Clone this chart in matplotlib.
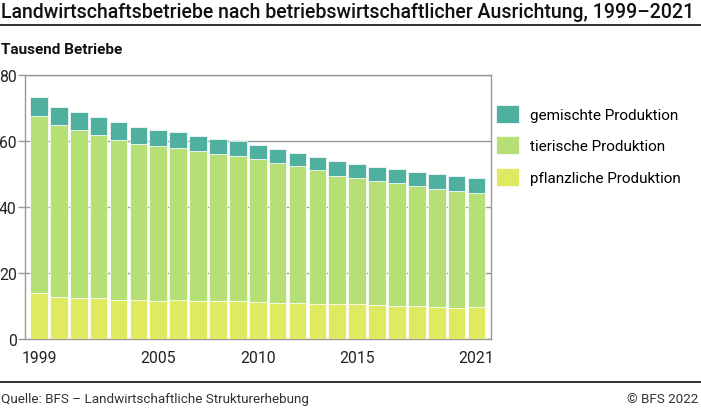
import numpy as np
import matplotlib.pyplot as plt
from matplotlib.patches import Patch
from matplotlib.lines import Line2D

plt.rcParams['font.family'] = ['Roboto', 'DejaVu Sans']

years = list(range(1999, 2022))
# Tausend Betriebe (cumulative tops converted to segments)
pflanzlich = [13.8, 12.7, 12.5, 12.3, 11.8, 11.7, 11.5, 11.7, 11.5, 11.5, 11.5, 11.2,
              11.0, 11.0, 10.5, 10.5, 10.5, 10.2, 10.0, 9.9, 9.7, 9.5, 9.7]
tier_top = [67.6, 64.8, 63.2, 61.9, 60.4, 59.1, 58.4, 57.9, 57.0, 56.1, 55.5, 54.5,
            53.2, 52.3, 51.1, 49.5, 48.7, 47.8, 47.3, 46.4, 45.5, 44.8, 44.3]
total = [73.4, 70.4, 68.7, 67.2, 65.8, 64.3, 63.4, 62.6, 61.6, 60.7, 59.9, 58.9,
         57.6, 56.5, 55.1, 53.8, 53.1, 52.1, 51.5, 50.6, 49.9, 49.3, 48.8]
tierisch = [t - p for t, p in zip(tier_top, pflanzlich)]
gemischt = [s - t for s, t in zip(total, tier_top)]

labels = ['gemischte Produktion', 'tierische Produktion', 'pflanzliche Produktion']
colors = ['#50b09f', '#b6e076', '#e0ea61']
xtick_years = [1999, 2005, 2010, 2015, 2021]
yticks = [0, 20, 40, 60, 80]

W, H = 701, 410
fig = plt.figure(figsize=(W / 100, H / 100), dpi=100)

ax = fig.add_axes([25 / W, 70 / H, 466 / W, 264 / H])
x = np.arange(len(years))
ax.bar(x, pflanzlich, width=0.89, color=colors[2], edgecolor='white', linewidth=0.5, zorder=3)
ax.bar(x, tierisch, width=0.89, bottom=pflanzlich, color=colors[1],
       edgecolor='white', linewidth=0.5, zorder=3)
ax.bar(x, gemischt, width=0.89, bottom=tier_top, color=colors[0],
       edgecolor='white', linewidth=0.5, zorder=3)

ax.set_xlim(-0.7, len(years) - 0.27)
ax.set_ylim(0, 80)
ax.set_yticks(yticks)
ax.set_yticklabels([str(v) for v in yticks], fontsize=11.3, color='#222222')
ax.set_xticks([years.index(y) for y in xtick_years])
ax.set_xticklabels([str(y) for y in xtick_years], fontsize=11.3, color='#222222')
ax.tick_params(axis='x', length=0, pad=8)
ax.tick_params(axis='y', length=5, width=1, color='#999999', pad=1)
ax.yaxis.grid(True, color='#999999', linewidth=1, zorder=0)
for s in ax.spines.values():
    s.set_color('#999999')
    s.set_linewidth(1)

handles = [Patch(facecolor=c, edgecolor='white', linewidth=0.5) for c in colors]
fig.legend(handles, labels, loc='upper left', bbox_to_anchor=(496 / W, 1 - 106 / H),
           frameon=False, fontsize=11, handlelength=1.5, handleheight=1.45,
           handletextpad=0.75, labelspacing=0.86, borderaxespad=0, borderpad=0)

fig.text(1 / W, 1 - 12 / H, 'Landwirtschaftsbetriebe nach betriebswirtschaftlicher Ausrichtung, 1999–2021',
         fontsize=14.05, fontweight='medium', va='center', ha='left', color='#111111')
fig.add_artist(Line2D([0, 1], [1 - 26 / H, 1 - 26 / H], color='#222222', linewidth=1.3))
fig.text(1 / W, 1 - 50 / H, 'Tausend Betriebe', fontsize=11, fontweight='bold',
         va='center', ha='left', color='#111111')

fig.add_artist(Line2D([0, 1], [1 - 383 / H, 1 - 383 / H], color='#222222', linewidth=1.3))
fig.text(1 / W, 1 - 400 / H, 'Quelle: BFS – Landwirtschaftliche Strukturerhebung',
         fontsize=9.7, va='center', ha='left', color='#333333')
fig.text(1 - 3 / W, 1 - 400 / H, '© BFS 2022', fontsize=9.7, va='center', ha='right', color='#333333')

fig.savefig('out.png', dpi=100)
